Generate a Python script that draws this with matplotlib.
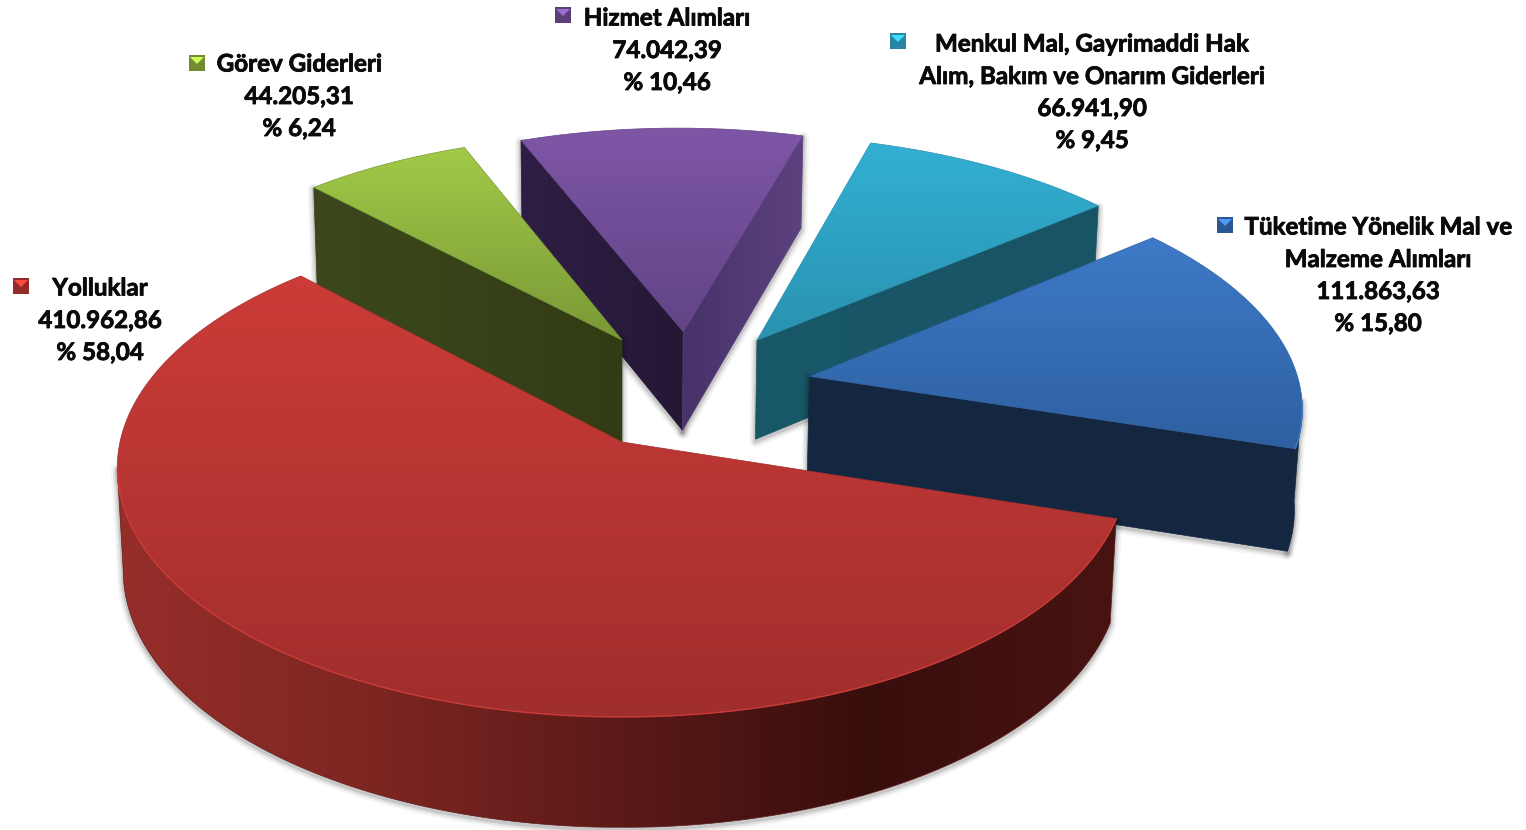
import numpy as np
import matplotlib
matplotlib.use('Agg')
import matplotlib.pyplot as plt
import matplotlib.patheffects as pe
from matplotlib.patches import Polygon, Rectangle

# data
categories = ['Yolluklar', 'Tüketime Yönelik Mal ve\nMalzeme Alımları',
              'Menkul Mal, Gayrimaddi Hak\nAlım, Bakım ve Onarım Giderleri',
              'Hizmet Alımları', 'Görev Giderleri']
values = [410962.86, 111863.63, 66941.90, 74042.39, 44205.31]
value_labels = ['410.962,86', '111.863,63', '66.941,90', '74.042,39', '44.205,31']
percent_labels = ['% 58,04', '% 15,80', '% 9,45', '% 10,46', '% 6,24']

# pie layout (perspective view of the 3d pie, pixels)
START_ANGLE = 133.5
CX, CY = 622.0, 442.0
RX, RY = 502.0, 246.3
PERSP = 0.1044
PERSP_Z = 0.012
DEPTH = 103.5
RADIUS = 1.0

explode = [(0, 0), (0.384, 0.274), (0.281, 0.432), (0.128, 0.47), (0, 0.433)]
depth_scale = [1, 1, 1, 1, 1.1]

# top face colours (upper, lower)
top_colors = [((204, 60, 56), (160, 46, 44)), ((62, 122, 200), (46, 96, 160)),
              ((50, 176, 212), (42, 146, 176)), ((126, 86, 166), (98, 68, 134)),
              ((162, 202, 72), (122, 152, 54))]
# side colours, left to right
side_colors = [[(150, 46, 42), (126, 38, 34), (92, 26, 24), (56, 14, 13), (72, 20, 18)],
               [(20, 40, 66), (20, 38, 64)],
               [(24, 88, 104), (24, 84, 102)],
               [(46, 30, 70), (36, 24, 52), (72, 50, 106), (92, 66, 126)],
               [(60, 72, 28), (50, 60, 20)]]
marker_pos = [(21, 286), (1225, 225), (898, 41), (563, 15), (197, 63)]
label_pos = [(100, 288), (1378, 227), (1092, 44), (667, 18), (299, 64)]
LINE_GAP = 32


def project(u, v, z=0.0):
    w = 1 + PERSP * v + PERSP_Z * z
    return CX + RX * u / w, CY - (RY * v - DEPTH * z) / w


def gradient_fill(ax, pts, colors, vertical=False, zorder=1):
    xy = np.array(pts)
    x0, y0 = xy.min(axis=0)
    x1, y1 = xy.max(axis=0)
    c = np.array(colors, dtype=float) / 255
    t = np.linspace(0, 1, 256)
    stops = np.linspace(0, 1, len(c))
    ramp = np.stack([np.interp(t, stops, c[:, i]) for i in range(3)], axis=-1)
    img = ramp[:, None, :] if vertical else ramp[None, :, :]
    im = ax.imshow(img, extent=(x0, x1, y1, y0), aspect='auto', zorder=zorder,
                   interpolation='bilinear')
    poly = Polygon(xy, closed=True, transform=ax.transData, facecolor='none', edgecolor='none')
    ax.add_patch(poly)
    im.set_clip_path(poly)
    ax.add_patch(Polygon(xy, closed=True, facecolor='none', edgecolor=tuple(c[len(c) // 2]),
                         lw=0.5, zorder=zorder))


def shadow(ax, pts, zorder):
    for lw, a in [(9, 0.04), (6, 0.07), (3, 0.12)]:
        xy = np.array(pts) + [0, 2]
        ax.add_patch(Polygon(xy, closed=True, facecolor='none', edgecolor='black',
                             lw=lw, alpha=a, zorder=zorder, joinstyle='round'))


def face_visible(p, q, m):
    # side face shows when the wedge lies on the other side of the edge from "down"
    ex, ey = q[0] - p[0], q[1] - p[1]
    return (ex * (m[1] - p[1]) - ey * (m[0] - p[0])) * ex < 0


fig = plt.figure(figsize=(15.26, 8.30), dpi=100)
ax = fig.add_axes([0, 0, 1, 1])
ax.axis('off')

total = sum(values)
starts = START_ANGLE + 360 * np.cumsum([0] + values[:-1]) / total
spans = 360 * np.array(values) / total

# far slices first, the big one last
z = 1
for i in [3, 4, 2, 1, 0]:
    a0, a1 = starts[i], starts[i] + spans[i]
    du, dv = explode[i]
    h = depth_scale[i]
    th = np.radians(np.linspace(a0, a1, 200))
    apex = project(du, dv)
    rim = [project(du + RADIUS * np.cos(t), dv + RADIUS * np.sin(t)) for t in th]
    rim_low = [project(du + RADIUS * np.cos(t), dv + RADIUS * np.sin(t), h) for t in th]
    apex_low = project(du, dv, h)
    mid = rim[len(rim) // 2]

    faces = []
    # outer wall, only the part turned to the viewer
    front = [k for k, t in enumerate(th) if np.sin(t) < -0.1]
    if front:
        wall = [rim[k] for k in front] + [rim_low[k] for k in reversed(front)]
        faces.append(wall)

    radial = []
    for q, q_low in [(rim[0], rim_low[0]), (rim[-1], rim_low[-1])]:
        if face_visible(apex, q, mid):
            radial.append([apex, q, q_low, apex_low])
    # left face of the pair first
    radial.sort(key=lambda f: f[1][0])
    faces.extend(radial)

    # soft shadow round the solid
    for f in faces:
        shadow(ax, f, z)
    z += 1

    cols = side_colors[i]
    if i == 3:
        gradient_fill(ax, radial[0], cols[:2], zorder=z)
        gradient_fill(ax, radial[1], cols[2:], zorder=z)
    else:
        for f in faces:
            gradient_fill(ax, f, cols, zorder=z)
    z += 1

    top = [apex] + rim
    gradient_fill(ax, top, top_colors[i], vertical=True, zorder=z)
    if front:
        edge = np.array([rim[k] for k in front])
        c = np.array(top_colors[i][0]) / 255
        ax.plot(edge[:, 0], edge[:, 1], color=np.clip(c * 1.1, 0, 1), lw=1.0, alpha=0.7, zorder=z)
    z += 1

# labels with their little bevelled keys
font = ['Lato', 'DejaVu Sans']
for i, name in enumerate(categories):
    lines = name.split('\n') + [value_labels[i], percent_labels[i]]
    x, y = label_pos[i]
    for k, line in enumerate(lines):
        t = ax.text(x, y + k * LINE_GAP + (k > 0) * 0.5, line, ha='center', va='center', fontsize=17.4,
                    fontweight='bold', family=font, color='#0a0a0a', zorder=50)
        t.set_path_effects([pe.withStroke(linewidth=0.6, foreground='#0a0a0a')])
    mx, my = marker_pos[i]
    up, lo = np.array(top_colors[i][0]) / 255, np.array(top_colors[i][1]) / 255
    ax.add_patch(Rectangle((mx - 8, my - 8), 16, 16, facecolor=lo * 0.92, edgecolor='none', zorder=50))
    ax.add_patch(Polygon([(mx - 7, my - 6), (mx + 7, my - 6), (mx, my + 1)], closed=True,
                         facecolor=np.clip(up * 1.25, 0, 1), edgecolor='none', zorder=51))

ax.set_xlim(0, 1526)
ax.set_ylim(830, 0)
fig.savefig('out.png', dpi=100, facecolor='white')
